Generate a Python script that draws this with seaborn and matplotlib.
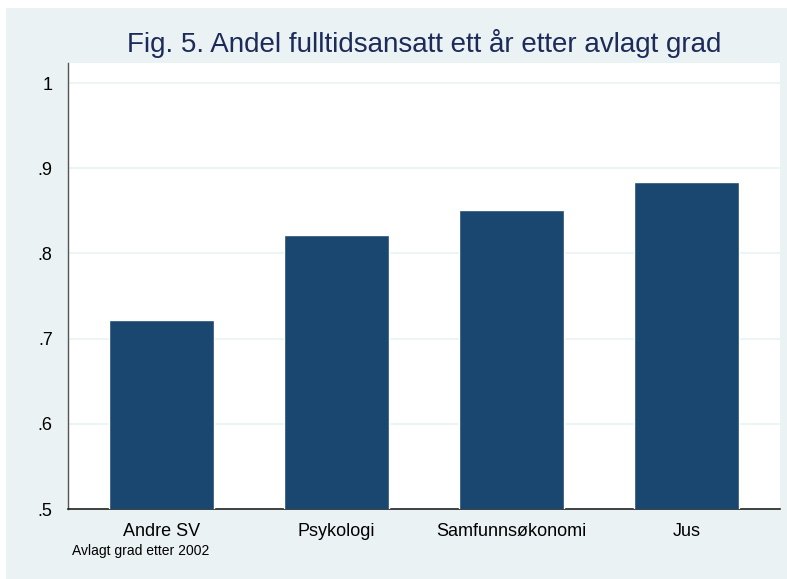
import numpy as np
import pandas as pd
import seaborn as sns
from matplotlib import pyplot as plt
from matplotlib.patches import Rectangle

# Andel fulltidsansatt ett år etter avlagt grad
fag = ["Andre SV", "Psykologi", "Samfunnsøkonomi", "Jus"]
andel = [0.722, 0.822, 0.851, 0.884]
yticks = [0.5, 0.6, 0.7, 0.8, 0.9, 1.0]
ytick_labels = [".5", ".6", ".7", ".8", ".9", "1"]

df = pd.DataFrame({"fag": fag, "andel": andel})

sns.set_style("white")
plt.rcParams['font.family'] = ['Liberation Sans', 'DejaVu Sans']

fig = plt.figure(figsize=(7.87, 5.79), dpi=100, facecolor='white')
# light background panel (Stata style)
fig.patches.append(Rectangle((6/787, -0.01), 1.01, 1.01 - 8/579, transform=fig.transFigure,
                             facecolor='#eaf2f3', edgecolor='none', zorder=-10))

ax = fig.add_axes([68/787, 70/579, 712/787, 446/579])
ax.set_facecolor('white')

sns.barplot(data=df, x="fag", y="andel", color='#1a476f', width=0.6,
            saturation=1, ax=ax, zorder=3)

ax.set_ylim(0.5, 1.0235)
ax.set_xlim(-0.534, 3.534)
ax.set_yticks(yticks)
ax.set_yticklabels(ytick_labels, fontsize=13, color='black')
ax.tick_params(axis='y', length=7, width=1, color='#555555', pad=4)
ax.tick_params(axis='x', length=0, labelsize=13, pad=10, labelcolor='black')
ax.grid(axis='y', color='#eaf2f3', linewidth=1.2, zorder=0)
ax.set_axisbelow(True)

for s in ['top', 'right']:
    ax.spines[s].set_visible(False)
ax.spines['left'].set_color('#555555')
ax.spines['bottom'].set_color('#222222')
ax.spines['left'].set_linewidth(1)
ax.spines['bottom'].set_linewidth(1.2)

ax.set_xlabel('')
ax.set_ylabel('')

fig.text(424/787, 1 - 44/579, "Fig. 5. Andel fulltidsansatt ett år etter avlagt grad",
         ha='center', va='center', fontsize=20, color='#1c2b59')
fig.text(72/787, 1 - 551/579, "Avlagt grad etter 2002", ha='left', va='center',
         fontsize=10, color='black')

plt.savefig("out.png", dpi=100, facecolor='white')
